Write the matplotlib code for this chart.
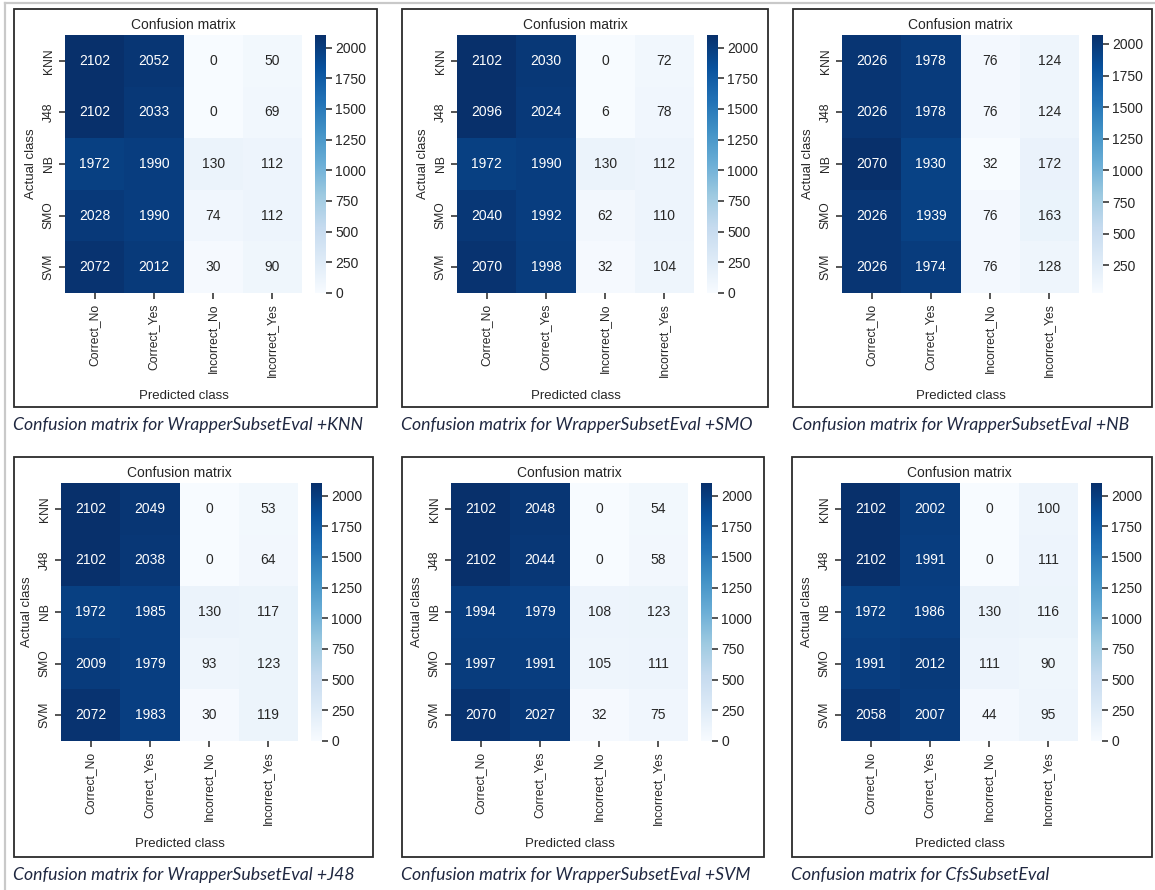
import numpy as np
import matplotlib
matplotlib.use("Agg")
import matplotlib.pyplot as plt
from matplotlib.patches import Rectangle
from matplotlib.lines import Line2D

# ---- data -----------------------------------------------------------------
actual_classes = ["KNN", "J48", "NB", "SMO", "SVM"]
predicted_classes = ["Correct_No", "Correct_Yes", "Incorrect_No", "Incorrect_Yes"]

cm_wrapper_knn = [[2102, 2052, 0, 50],
                  [2102, 2033, 0, 69],
                  [1972, 1990, 130, 112],
                  [2028, 1990, 74, 112],
                  [2072, 2012, 30, 90]]

cm_wrapper_smo = [[2102, 2030, 0, 72],
                  [2096, 2024, 6, 78],
                  [1972, 1990, 130, 112],
                  [2040, 1992, 62, 110],
                  [2070, 1998, 32, 104]]

cm_wrapper_nb = [[2026, 1978, 76, 124],
                 [2026, 1978, 76, 124],
                 [2070, 1930, 32, 172],
                 [2026, 1939, 76, 163],
                 [2026, 1974, 76, 128]]

cm_wrapper_j48 = [[2102, 2049, 0, 53],
                  [2102, 2038, 0, 64],
                  [1972, 1985, 130, 117],
                  [2009, 1979, 93, 123],
                  [2072, 1983, 30, 119]]

cm_wrapper_svm = [[2102, 2048, 0, 54],
                  [2102, 2044, 0, 58],
                  [1994, 1979, 108, 123],
                  [1997, 1991, 105, 111],
                  [2070, 2027, 32, 75]]

cm_cfs = [[2102, 2002, 0, 100],
          [2102, 1991, 0, 111],
          [1972, 1986, 130, 116],
          [1991, 2012, 111, 90],
          [2058, 2007, 44, 95]]

captions = ["Confusion matrix for WrapperSubsetEval +KNN",
            "Confusion matrix for WrapperSubsetEval +SMO",
            "Confusion matrix for WrapperSubsetEval +NB",
            "Confusion matrix for WrapperSubsetEval +J48",
            "Confusion matrix for WrapperSubsetEval +SVM",
            "Confusion matrix for CfsSubsetEval"]

matrices = [cm_wrapper_knn, cm_wrapper_smo, cm_wrapper_nb,
            cm_wrapper_j48, cm_wrapper_svm, cm_cfs]

# ---- layout (pixels) --------------------------------------------------------
W, H = 1155, 890
# panel frames: (left, top, right, bottom)
frames = [(14, 9, 377, 407), (402, 9, 768, 407), (793, 9, 1152, 407),
          (14, 457, 373, 857), (402, 457, 764, 857), (792, 457, 1152, 857)]
# heatmap left edges
heat_left = [65, 457, 842, 61, 451, 841]
caption_width_px = 352  # width of the first caption line

plt.rcParams["font.family"] = ["Liberation Sans", "DejaVu Sans"]
fig = plt.figure(figsize=(W / 100, H / 100), dpi=100)
fig.patch.set_facecolor("white")


def px_axes(x0, y0, x1, y1):
    return fig.add_axes([x0 / W, 1 - y1 / H, (x1 - x0) / W, (y1 - y0) / H])


# light frame lines along top and left edge of the page
fig.add_artist(Line2D([5 / W, 1], [1 - 3 / H, 1 - 3 / H], color="#c9c9c9", lw=1.6))
fig.add_artist(Line2D([5 / W, 5 / W], [0, 1 - 3 / H], color="#c9c9c9", lw=1.6))

cmap = plt.get_cmap("Blues")
text_dark = "#262626"
caption_texts = []

for i, (cm, cap) in enumerate(zip(matrices, captions)):
    data = np.array(cm, dtype=float)
    fl, ft, fr, fb = frames[i]

    # frame around each panel
    fig.add_artist(Rectangle((fl / W, 1 - fb / H), (fr - fl) / W, (fb - ft) / H,
                             transform=fig.transFigure, fill=False,
                             edgecolor="#2b2b2b", lw=1.3))

    hl = heat_left[i]
    ht = ft + 26
    hr = hl + 237
    hb = ht + 258
    ax = px_axes(hl, ht, hr, hb)
    vmin, vmax = data.min(), data.max()
    mesh = ax.pcolormesh(np.arange(5), np.arange(6), data, cmap=cmap,
                         vmin=vmin, vmax=vmax)
    ax.set_xlim(0, 4)
    ax.set_ylim(5, 0)
    for s in ax.spines.values():
        s.set_visible(False)

    # cell annotations
    for r in range(data.shape[0]):
        for c in range(data.shape[1]):
            rgba = cmap((data[r, c] - vmin) / (vmax - vmin))
            lin = [ch / 12.92 if ch <= 0.03928 else ((ch + 0.055) / 1.055) ** 2.4
                   for ch in rgba[:3]]
            lum = 0.2126 * lin[0] + 0.7152 * lin[1] + 0.0722 * lin[2]
            col = text_dark if lum > 0.408 else "white"
            ax.text(c + 0.5, r + 0.5, f"{int(data[r, c])}", ha="center",
                    va="center", fontsize=10, color=col)

    ax.set_xticks(np.arange(4) + 0.5)
    ax.set_xticklabels(predicted_classes, rotation=90, fontsize=8.7, color=text_dark)
    ax.set_yticks(np.arange(5) + 0.5)
    ax.set_yticklabels(actual_classes, rotation=90, va="center", fontsize=8.7,
                       color=text_dark)
    ax.tick_params(axis="both", length=4.5, width=1.1, color=text_dark, pad=3)
    ax.set_title("Confusion matrix", fontsize=10, color=text_dark, pad=4)
    ax.set_xlabel("Predicted class", fontsize=9.5, color=text_dark, labelpad=9)
    ax.set_ylabel("Actual class", fontsize=9.5, color=text_dark, labelpad=4)

    # colorbar
    cax = px_axes(hr + 13, ht, hr + 24, hb)
    cbar = fig.colorbar(mesh, cax=cax)
    cbar.outline.set_visible(False)
    ticks = [t for t in range(0, 2251, 250) if vmin <= t <= vmax]
    cbar.set_ticks(ticks)
    cbar.ax.tick_params(labelsize=10, length=4.5, width=1.1, color=text_dark,
                        labelcolor=text_dark, pad=2)

    # caption under the frame
    caption_texts.append(
        fig.text((fl - 1) / W, 1 - (fb + 18) / H, cap, ha="left", va="center",
                 family=["Lato", "DejaVu Sans"], style="italic", fontsize=13,
                 color="#1f2740"))

# size the captions so the first one spans the intended width
renderer = fig.canvas.get_renderer()
for _ in range(3):
    w = caption_texts[0].get_window_extent(renderer).width
    size = caption_texts[0].get_fontsize() * caption_width_px / w
    for t in caption_texts:
        t.set_fontsize(size)

fig.savefig("out.png", dpi=100, facecolor="white")
